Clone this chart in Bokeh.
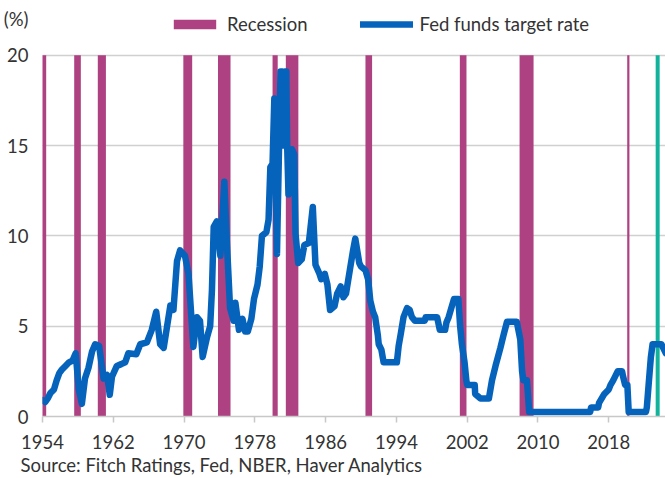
from bokeh.plotting import figure
from bokeh.models import Range1d, FixedTicker, Legend, LegendItem, Title, ColumnDataSource
from bokeh.embed import file_html
from bokeh.resources import INLINE

# ---- data ----
rec_start = [1953.5, 1957.583, 1960.25, 1969.917, 1973.833, 1980.0, 1981.5, 1990.5, 2001.167, 2007.917, 2020.083]
rec_end = [1954.417, 1958.333, 1961.167, 1970.917, 1975.25, 1980.583, 1982.917, 1991.25, 2001.917, 2009.5, 2020.333]

fcst_start = [2023.3]
fcst_end = [2023.75]

rate_year = [
    1954.0, 1954.3, 1954.6, 1954.9, 1955.3, 1955.6, 1955.9, 1956.2, 1956.6, 1957.0,
    1957.4, 1957.75, 1958.1, 1958.45, 1958.8, 1959.2, 1959.6, 1959.95, 1960.4, 1960.9,
    1961.3, 1961.6, 1961.85, 1962.4, 1962.9, 1963.35, 1963.7, 1964.6, 1965.05, 1965.8,
    1966.35, 1966.85, 1967.3, 1967.7, 1968.05, 1968.45, 1968.8, 1969.2, 1969.55, 1970.1,
    1970.5, 1971.05, 1971.45, 1971.8, 1972.1, 1972.6, 1972.95, 1973.15, 1973.35, 1973.7,
    1974.1, 1974.55, 1974.85, 1975.2, 1975.6, 1975.8, 1976.2, 1976.6, 1976.9, 1977.2,
    1977.6, 1977.9, 1978.3, 1978.55, 1978.8, 1979.3, 1979.55, 1979.75, 1980.0, 1980.2,
    1980.5, 1980.9, 1981.1, 1981.25, 1981.4, 1981.55, 1981.65, 1981.8, 1982.05, 1982.2,
    1982.45, 1982.6, 1982.9, 1983.3, 1983.6, 1984.1, 1984.3, 1984.55, 1984.85, 1985.3,
    1985.5, 1985.9, 1986.2, 1986.5, 1987.0, 1987.3, 1987.7, 1988.0, 1988.3, 1988.8,
    1989.1, 1989.35, 1989.8, 1990.0, 1990.5, 1990.8, 1991.05, 1991.35, 1991.6, 1991.9,
    1992.0, 1992.3, 1992.55, 1994.05, 1994.25, 1994.5, 1994.8, 1995.2, 1995.5, 1995.75,
    1996.1, 1997.2, 1997.3, 1998.6, 1998.9, 1999.5, 1999.65, 1999.9, 2000.2, 2000.5,
    2001.0, 2001.2, 2001.4, 2001.7, 2001.9, 2002.0, 2002.85, 2002.9, 2003.5, 2004.45,
    2004.8, 2005.2, 2005.75, 2006.1, 2006.5, 2007.6, 2007.8, 2008.0, 2008.2, 2008.35,
    2008.75, 2008.9, 2009.0, 2015.9, 2016.0, 2016.8, 2016.9, 2017.2, 2017.5, 2018.0,
    2018.2, 2018.5, 2018.75, 2019.0, 2019.5, 2019.6, 2019.85, 2020.1, 2020.25, 2022.2,
    2022.3, 2022.5, 2022.75, 2022.95, 2023.95, 2024.45,
]
rate_value = [
    0.9, 0.8, 1.0, 1.3, 1.5, 2.0, 2.4, 2.6, 2.8, 3.0,
    3.1, 3.5, 1.5, 0.7, 2.1, 2.7, 3.6, 4.0, 3.9, 2.1,
    2.3, 1.2, 2.2, 2.8, 2.9, 3.0, 3.5, 3.45, 4.0, 4.1,
    4.8, 5.8, 4.0, 3.8, 4.9, 6.15, 5.9, 8.6, 9.2, 8.9,
    7.9, 3.85, 5.5, 5.3, 3.3, 4.4, 5.0, 7.0, 10.5, 10.8,
    8.9, 13.0, 9.5, 6.0, 5.3, 6.3, 4.8, 5.4, 4.7, 4.7,
    5.4, 6.5, 7.3, 8.3, 10.0, 10.2, 10.9, 13.8, 14.0, 17.6,
    9.0, 19.1, 19.1, 15.0, 19.1, 19.1, 15.0, 12.3, 13.5, 14.8,
    14.5, 10.1, 8.5, 8.7, 9.5, 9.6, 10.5, 11.6, 8.4, 7.9,
    7.6, 7.9, 7.3, 5.9, 6.1, 6.8, 7.2, 6.6, 6.8, 8.3,
    9.2, 9.85, 8.5, 8.3, 8.1, 7.6, 6.4, 5.8, 5.5, 4.5,
    4.0, 3.7, 3.0, 3.0, 3.9, 4.6, 5.5, 6.0, 5.9, 5.5,
    5.3, 5.3, 5.5, 5.5, 4.8, 4.8, 5.2, 5.5, 6.0, 6.5,
    6.5, 5.0, 4.0, 3.0, 2.0, 1.75, 1.75, 1.25, 1.0, 1.0,
    2.0, 2.8, 3.8, 4.5, 5.25, 5.25, 4.75, 4.25, 2.5, 2.0,
    2.0, 1.0, 0.25, 0.25, 0.5, 0.5, 0.75, 1.0, 1.25, 1.5,
    1.75, 2.0, 2.25, 2.5, 2.5, 2.25, 1.75, 1.75, 0.25, 0.25,
    0.5, 1.75, 3.25, 4.0, 4.0, 3.5,
]

x_ticks = [1954, 1962, 1970, 1978, 1986, 1994, 2002, 2010, 2018]
y_ticks = [0, 5, 10, 15, 20]
unit_label = "(%)"
unit_pos = 22
source_text = "Source: Fitch Ratings, Fed, NBER, Haver Analytics"

FONT = "Lato"
FS = "18.5px"
TXT = "#333333"

p = figure(width=665, height=478, output_backend="svg", toolbar_location=None,
           x_range=Range1d(1954.0, 2024.41), y_range=Range1d(0, 23.03),
           min_border_left=42, min_border_right=0, min_border_top=0, min_border_bottom=62)
p.outline_line_color = None
p.background_fill_color = "white"
p.border_fill_color = "white"

rec_src = ColumnDataSource(dict(left=rec_start, right=rec_end))
rec_r = p.quad(left="left", right="right", bottom=0, top=20, source=rec_src,
               fill_color="#AE4181", line_color=None)
fc_src = ColumnDataSource(dict(left=fcst_start, right=fcst_end))
p.quad(left="left", right="right", bottom=0, top=20, source=fc_src,
       fill_color="#12B39B", line_color=None)
line_src = ColumnDataSource(dict(x=rate_year, y=rate_value))
line_r = p.line("x", "y", source=line_src, line_color="#0563BB", line_width=6.5,
                line_join="round", line_cap="round")

# axes
p.xaxis.ticker = FixedTicker(ticks=x_ticks)
p.yaxis.ticker = FixedTicker(ticks=y_ticks + [unit_pos])
p.yaxis.major_label_overrides = {unit_pos: unit_label}
p.xgrid.grid_line_color = None
p.ygrid.ticker = FixedTicker(ticks=y_ticks)
p.ygrid.grid_line_color = "#d0d0d0"
p.ygrid.grid_line_width = 1.5

for ax in (p.xaxis[0], p.yaxis[0]):
    ax.major_label_text_font = FONT
    ax.major_label_text_font_size = FS
    ax.major_label_text_color = TXT
    ax.minor_tick_line_color = None
    ax.major_tick_in = 0

p.xaxis.axis_line_color = "#c8c8c8"
p.xaxis.axis_line_width = 1.5
p.xaxis.major_tick_line_color = "#c8c8c8"
p.xaxis.major_tick_line_width = 1.5
p.xaxis.major_tick_out = 6
p.xaxis.major_label_standoff = 12

p.yaxis.axis_line_color = None
p.yaxis.major_tick_line_color = None
p.yaxis.major_tick_out = 0
p.yaxis.major_label_standoff = 14

legend = Legend(items=[LegendItem(label="Recession", renderers=[rec_r]),
                       LegendItem(label="Fed funds target rate", renderers=[line_r])],
                orientation="horizontal", location=(126, 381),
                border_line_color=None, background_fill_alpha=0,
                label_text_font=FONT, label_text_font_size=FS, label_text_color=TXT,
                glyph_width=53, glyph_height=12, label_standoff=6, spacing=53,
                padding=0, margin=0)
p.add_layout(legend, "center")

src_title = Title(text=source_text, align="left", offset=-22, standoff=0,
                  text_font=FONT, text_font_size=FS, text_color=TXT,
                  text_font_style="normal")
p.add_layout(src_title, "below")

open("out.html", "w").write(file_html(p, INLINE))
